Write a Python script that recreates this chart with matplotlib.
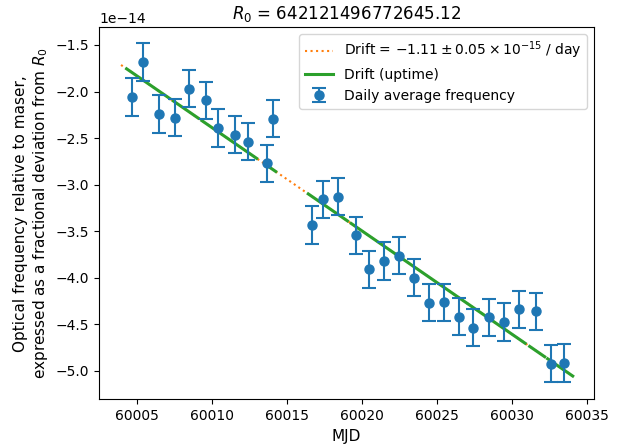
import numpy as np
import matplotlib
matplotlib.use("Agg")
import matplotlib.pyplot as plt

# Daily average frequency (units of 1e-14)
mjd = [60004.71, 60005.44, 60006.51, 60007.57, 60008.47, 60009.62, 60010.44,
       60011.53, 60012.44, 60013.67, 60014.09, 60016.71, 60017.44, 60018.44,
       60019.64, 60020.47, 60021.49, 60022.47, 60023.47, 60024.47, 60025.49,
       60026.49, 60027.42, 60028.49, 60029.47, 60030.47, 60031.64, 60032.64,
       60033.47]
freq = [-2.056, -1.683, -2.241, -2.281, -1.970, -2.094, -2.392, -2.464, -2.539,
        -2.771, -2.292, -3.434, -3.158, -3.130, -3.545, -3.910, -3.821, -3.764,
        -4.000, -4.269, -4.265, -4.420, -4.536, -4.428, -4.477, -4.340, -4.362,
        -4.925, -4.917]
ferr = [0.205, 0.200, 0.200, 0.200, 0.200, 0.200, 0.200, 0.200, 0.200, 0.200,
        0.200, 0.200, 0.200, 0.200, 0.200, 0.200, 0.200, 0.200, 0.200, 0.200,
        0.200, 0.200, 0.200, 0.200, 0.200, 0.200, 0.200, 0.200, 0.200]

# Drift fit
drift_slope = -0.111      # 1e-14 per day
drift_ref_mjd = 60003.96
drift_ref_val = -1.715
drift_span = [60003.96, 60034.07]

# Uptime intervals
uptime_start = [60004.33, 60007.45, 60009.35, 60013.55, 60016.44, 60019.3, 60031.2, 60032.4]
uptime_end = [60007.2, 60009.1, 60013.0, 60014.27, 60019.05, 60030.9, 60032.2, 60034.07]

scale = 1e-14

def drift(x):
    return (drift_ref_val + drift_slope * (np.asarray(x) - drift_ref_mjd)) * scale

fig = plt.figure(figsize=(6.23, 4.45), dpi=100)
ax = fig.add_axes([0.1589, 0.1027, 0.9535 - 0.1589, 0.9387 - 0.1027])

xd = np.linspace(drift_span[0], drift_span[1], 400)
ax.plot(xd, drift(xd), ':', color='tab:orange', lw=1.5,
        label=r'Drift = $-1.11 \pm 0.05 \times 10^{-15}$ / day')

xs, ys = [], []
for s, e in zip(uptime_start, uptime_end):
    xx = np.linspace(s, e, 50)
    xs.extend(list(xx) + [np.nan])
    ys.extend(list(drift(xx)) + [np.nan])
ax.plot(xs, ys, '-', color='tab:green', lw=2.2, label='Drift (uptime)')

ax.errorbar(mjd, np.array(freq) * scale, yerr=np.array(ferr) * scale, fmt='o',
            color='tab:blue', capsize=5, elinewidth=1.5, capthick=1.5,
            markersize=6.5, label='Daily average frequency')

ax.set_xlim(60002.49, 60035.49)
ax.set_ylim(-5.307e-14, -1.31e-14)
ax.set_xlabel('MJD', fontsize=11)
ax.set_ylabel('Optical frequency relative to maser,\nexpressed as a fractional deviation from $R_0$',
              fontsize=11)
ax.set_title('$R_0$ = 642121496772645.12', fontsize=12)
ax.legend(loc='upper right')

fig.savefig('out.png', dpi=100)
